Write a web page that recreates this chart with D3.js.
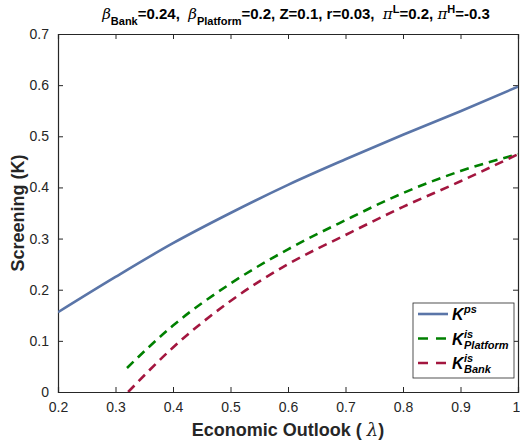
<!DOCTYPE html>
<html>
<head>
<meta charset="utf-8">
<script src="https://cdn.jsdelivr.net/npm/d3@7"></script>
<style>
body { margin: 0; background: #fff; }
text { font-family: "Liberation Sans", Arial, sans-serif; }
</style>
</head>
<body>
<svg id="chart" width="520" height="443"></svg>
<script>
// values
var lambdaPs = [0.2, 0.3, 0.4, 0.5, 0.6, 0.7, 0.8, 0.9, 1.0];
var kPs = [0.156, 0.225, 0.291, 0.35, 0.405, 0.455, 0.503, 0.549, 0.597];

var lambdaPlat = [0.32, 0.4, 0.5, 0.6, 0.7, 0.8, 0.9, 1.0];
var kPlat = [0.047, 0.13, 0.212, 0.279, 0.336, 0.389, 0.432, 0.465];

var lambdaBank = [0.322, 0.4, 0.5, 0.6, 0.7, 0.8, 0.9, 1.0];
var kBank = [0.0, 0.087, 0.178, 0.25, 0.307, 0.362, 0.412, 0.465];

var xTicks = [0.2, 0.3, 0.4, 0.5, 0.6, 0.7, 0.8, 0.9, 1];
var yTicks = [0, 0.1, 0.2, 0.3, 0.4, 0.5, 0.6, 0.7];

var svg = d3.select("#chart");
var margin = {left: 58, right: 2, top: 34, bottom: 51};
var w = 520 - margin.left - margin.right;
var h = 443 - margin.top - margin.bottom;

var x = d3.scaleLinear().domain([0.2, 1]).range([0, w]);
var y = d3.scaleLinear().domain([0, 0.7]).range([h, 0]);

var g = svg.append("g").attr("transform", "translate(" + margin.left + "," + margin.top + ")");

g.append("defs").append("clipPath").attr("id", "clip")
    .append("rect").attr("width", w).attr("height", h);

var tickColor = "#262626";
var fmt = d3.format("");

// bottom / left with labels, top / right without; all ticks inward
var xb = g.append("g").attr("transform", "translate(0," + h + ")")
    .call(d3.axisBottom(x).tickValues(xTicks).tickSize(-5).tickPadding(10).tickFormat(fmt));
var xt = g.append("g")
    .call(d3.axisTop(x).tickValues(xTicks).tickSize(-5).tickFormat(""));
var yl = g.append("g")
    .call(d3.axisLeft(y).tickValues(yTicks).tickSize(-5).tickPadding(9).tickFormat(fmt));
var yr = g.append("g").attr("transform", "translate(" + w + ",0)")
    .call(d3.axisRight(y).tickValues(yTicks).tickSize(-5).tickFormat(""));

[xb, xt, yl, yr].forEach(function(a) {
    a.select(".domain").attr("stroke", tickColor).attr("stroke-width", 1.2);
    a.selectAll(".tick line").attr("stroke", tickColor);
    a.selectAll(".tick text").attr("fill", tickColor).style("font-size", "14px");
});
// last x label sits at the window edge
xb.selectAll(".tick text").filter(function(d) { return d === 1; }).attr("dx", -2);

var line = d3.line()
    .x(function(d) { return x(d[0]); })
    .y(function(d) { return y(d[1]); })
    .curve(d3.curveMonotoneX);

var series = [
    {xs: lambdaPs, ys: kPs, color: "#5A75A8", dash: null},
    {xs: lambdaPlat, ys: kPlat, color: "#008000", dash: "9,6"},
    {xs: lambdaBank, ys: kBank, color: "#A3163F", dash: "9,6"}
];

series.forEach(function(s) {
    g.append("path")
        .datum(d3.zip(s.xs, s.ys))
        .attr("clip-path", "url(#clip)")
        .attr("fill", "none")
        .attr("stroke", s.color)
        .attr("stroke-width", 2.6)
        .attr("stroke-dasharray", s.dash)
        .attr("d", line);
});

// legend
var lg = g.append("g").attr("transform", "translate(355,269)");
lg.append("rect").attr("width", 101).attr("height", 75)
    .attr("fill", "#fff").attr("stroke", tickColor).attr("stroke-width", 0.8);
var subs = [null, "Platform", "Bank"];
var sups = ["ps", "is", "is"];
series.forEach(function(s, i) {
    var yy = 11 + i * 24.5;
    lg.append("line").attr("x1", 5).attr("x2", 35).attr("y1", yy).attr("y2", yy)
        .attr("stroke", s.color).attr("stroke-width", 2.6)
        .attr("stroke-dasharray", s.dash ? "10,8" : null);
    var item = lg.append("g").attr("fill", "#000")
        .style("font-weight", "bold").style("font-style", "italic");
    item.append("text").attr("x", 39).attr("y", yy + 6).style("font-size", "16px").text("K");
    item.append("text").attr("x", 51).attr("y", yy - 1).style("font-size", "11px").text(sups[i]);
    if (subs[i]) {
        item.append("text").attr("x", 51).attr("y", yy + 10).style("font-size", "11px").text(subs[i]);
    }
});

// axis labels
svg.append("text")
    .attr("x", margin.left + w / 2).attr("y", 436)
    .attr("text-anchor", "middle")
    .style("font-size", "18px").style("font-weight", "bold").attr("fill", tickColor)
    .html('Economic Outlook ( <tspan style="font-family:\'DejaVu Serif\',serif;font-style:italic;font-weight:normal">λ</tspan>)');

svg.append("text")
    .attr("transform", "translate(24," + (margin.top + h / 2) + ") rotate(-90)")
    .attr("text-anchor", "middle")
    .style("font-size", "18px").style("font-weight", "bold").attr("fill", tickColor)
    .text("Screening (K)");

// title
var title = svg.append("text")
    .attr("x", margin.left + w / 2 + 8).attr("y", 19)
    .attr("text-anchor", "middle")
    .style("font-size", "15px").style("font-weight", "bold").attr("fill", "#000")
    .attr("xml:space", "preserve");
var greek = "font-family:'DejaVu Serif',serif;font-style:italic;font-weight:normal";
title.html(
    '<tspan style="' + greek + '">β</tspan><tspan dy="6" font-size="11">Bank</tspan>' +
    '<tspan dy="-6">=0.24,  </tspan>' +
    '<tspan style="' + greek + '">β</tspan><tspan dy="6" font-size="11">Platform</tspan>' +
    '<tspan dy="-6">=0.2, Z=0.1, r=0.03,  </tspan>' +
    '<tspan style="' + greek + '">π</tspan><tspan dy="-6" font-size="11">L</tspan>' +
    '<tspan dy="6">=0.2, </tspan>' +
    '<tspan style="' + greek + '">π</tspan><tspan dy="-6" font-size="11">H</tspan>' +
    '<tspan dy="6">=-0.3</tspan>'
);
</script>
</body>
</html>
